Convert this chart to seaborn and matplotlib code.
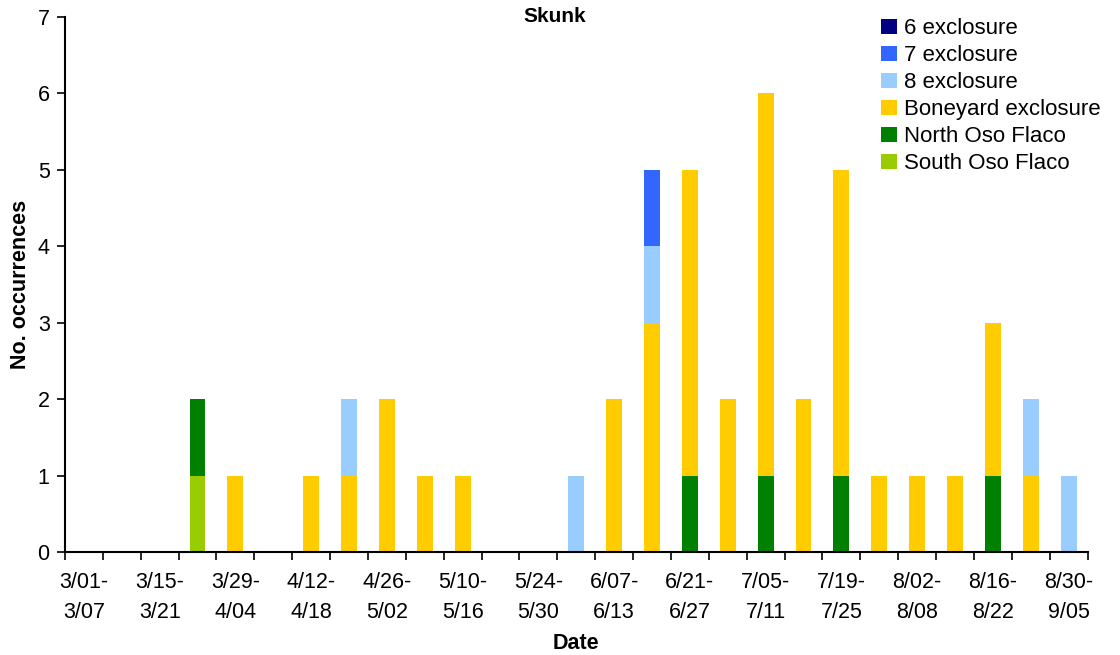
import pandas as pd
import matplotlib
matplotlib.use('Agg')
import matplotlib.pyplot as plt
import seaborn as sns
import numpy as np

weeks = ['3/01-3/07', '3/08-3/14', '3/15-3/21', '3/22-3/28', '3/29-4/04', '4/05-4/11',
         '4/12-4/18', '4/19-4/25', '4/26-5/02', '5/03-5/09', '5/10-5/16', '5/17-5/23',
         '5/24-5/30', '5/31-6/06', '6/07-6/13', '6/14-6/20', '6/21-6/27', '6/28-7/04',
         '7/05-7/11', '7/12-7/18', '7/19-7/25', '7/26-8/01', '8/02-8/08', '8/09-8/15',
         '8/16-8/22', '8/23-8/29', '8/30-9/05']

excl_6   = [0, 0, 0, 0, 0, 0, 0, 0, 0, 0, 0, 0, 0, 0, 0, 0, 0, 0, 0, 0, 0, 0, 0, 0, 0, 0, 0]
excl_7   = [0, 0, 0, 0, 0, 0, 0, 0, 0, 0, 0, 0, 0, 0, 0, 1, 0, 0, 0, 0, 0, 0, 0, 0, 0, 0, 0]
excl_8   = [0, 0, 0, 0, 0, 0, 0, 1, 0, 0, 0, 0, 0, 1, 0, 1, 0, 0, 0, 0, 0, 0, 0, 0, 0, 1, 1]
boneyard = [0, 0, 0, 0, 1, 0, 1, 1, 2, 1, 1, 0, 0, 0, 2, 3, 4, 2, 5, 2, 4, 1, 1, 1, 2, 1, 0]
north    = [0, 0, 0, 1, 0, 0, 0, 0, 0, 0, 0, 0, 0, 0, 0, 0, 1, 0, 1, 0, 1, 0, 0, 0, 1, 0, 0]
south    = [0, 0, 0, 1, 0, 0, 0, 0, 0, 0, 0, 0, 0, 0, 0, 0, 0, 0, 0, 0, 0, 0, 0, 0, 0, 0, 0]

sites = ['6 exclosure', '7 exclosure', '8 exclosure', 'Boneyard exclosure',
         'North Oso Flaco', 'South Oso Flaco']
colors = ['#000080', '#3366FF', '#99CCFF', '#FFCC00', '#008000', '#99CC00']

series = dict(zip(sites, [excl_6, excl_7, excl_8, boneyard, north, south]))
rows = []
for site, vals in series.items():
    for i, v in enumerate(vals):
        rows.append({'week': i, 'site': site, 'count': v})
df = pd.DataFrame(rows)

sns.set_style('white')
plt.rcParams['font.family'] = ['Liberation Sans', 'DejaVu Sans']
plt.rcParams['text.color'] = 'black'
plt.rcParams['xtick.color'] = 'black'
plt.rcParams['ytick.color'] = 'black'
plt.rcParams['axes.labelcolor'] = 'black'

fig = plt.figure(figsize=(11.2, 6.55), dpi=100)
ax = fig.add_axes([0.058, 0.157, 0.913, 0.817])

# first hue level ends up on top of the stack
sns.histplot(data=df, x='week', weights='count', hue='site', hue_order=sites,
             palette=colors, multiple='stack', discrete=True, shrink=0.42,
             linewidth=0, alpha=1, ax=ax)

ax.set_xlim(-0.5, len(weeks) - 0.5)
ax.set_ylim(0, 7)
ax.set_yticks(range(0, 8))
ax.tick_params(axis='y', labelsize=15.5, length=6, width=1.2, direction='out', left=True, pad=5)

# labels every other week, tick marks on the week boundaries
ax.set_xticks(np.arange(0, len(weeks), 2))
ax.set_xticklabels([w.replace('-', '-\n') for w in weeks[::2]], fontsize=15.5, linespacing=1.6)
ax.set_xticks(np.arange(-0.5, len(weeks), 1), minor=True)
ax.tick_params(axis='x', which='major', length=0, pad=14)
ax.tick_params(axis='x', which='minor', length=6, width=1.2, direction='out', bottom=True)

for s in ['top', 'right']:
    ax.spines[s].set_visible(False)
for s in ['left', 'bottom']:
    ax.spines[s].set_color('black')
    ax.spines[s].set_linewidth(1.5)

ax.set_xlabel('Date', fontsize=15.5, fontweight='bold', labelpad=7)
ax.set_ylabel('No. occurrences', fontsize=15.5, fontweight='bold', labelpad=5)
fig.text(0.495, 1 - 17 / 655, 'Skunk', fontsize=15, fontweight='bold', ha='center', va='center')

sns.move_legend(ax, 'upper left', bbox_to_anchor=(0.787, 0.972), bbox_transform=fig.transFigure,
                frameon=False, title=None, fontsize=16, handlelength=0.72, handleheight=0.72,
                handletextpad=0.3, labelspacing=0.27, borderpad=0, borderaxespad=0)

plt.savefig('out.png', dpi=100)
